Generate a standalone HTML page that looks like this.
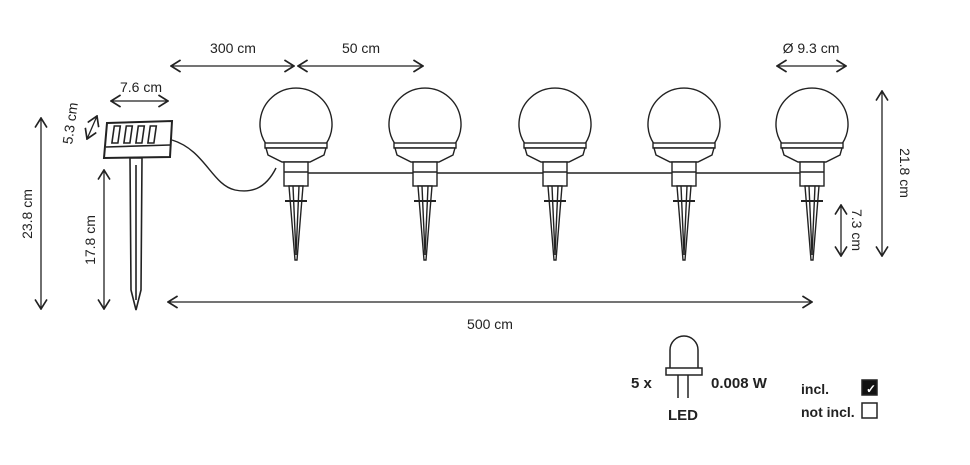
<!DOCTYPE html>
<html><head><meta charset="utf-8"><style>
html,body{margin:0;padding:0;background:#fff;}
svg{display:block}
text{font-family:"Liberation Sans",sans-serif;fill:#222}
</style></head><body>
<svg width="970" height="465" viewBox="0 0 970 465" xmlns="http://www.w3.org/2000/svg">
<defs>
<marker id="a" viewBox="0 0 10 10" refX="9" refY="5" markerWidth="12" markerHeight="13" orient="auto-start-reverse" markerUnits="userSpaceOnUse">
<path d="M1,0 L9,5 L1,10" fill="none" stroke="#222" stroke-width="1.4"/>
</marker>
<g id="lamp" fill="#fff" stroke="#222" stroke-width="1.4">
<path d="M-30,144 A36,36 0 1 1 30,144 Z"/>
<rect x="-31" y="143" width="62" height="5"/>
<path d="M-30,148 L-28,155 L-14,162 L14,162 L28,155 L30,148 Z"/>
<rect x="-12" y="162" width="24" height="24"/>
<line x1="-12" y1="172" x2="12" y2="172"/>
<path d="M-7,186 L7,186 L1,260 L-1,260 Z"/>
<line x1="-3" y1="186" x2="0" y2="255"/>
<line x1="3" y1="186" x2="0" y2="255"/>
<line x1="-11" y1="201" x2="11" y2="201" stroke-width="2"/>
</g>
</defs>
<g stroke="#222" stroke-width="1.4" fill="none">
<line x1="308" y1="173" x2="800" y2="173"/>
<path d="M276,168 C265,190 250,193 235,190 C212,185 205,150 172,140"/>
</g>
<use href="#lamp" x="296" y="0"/>
<use href="#lamp" x="425" y="0"/>
<use href="#lamp" x="555" y="0"/>
<use href="#lamp" x="684" y="0"/>
<use href="#lamp" x="812" y="0"/>
<g stroke="#222" stroke-width="1.6" fill="#fff">
<path d="M130,158 L142,158 L141,290 L136,310 L131,290 Z"/>
<line x1="136" y1="165" x2="136" y2="300"/>
<path d="M107,123 L172,121 L170,157 L104,158 Z" stroke-width="2"/>
<path d="M106,147 L170,145"/>
<rect x="114" y="126" width="6" height="17" transform="skewX(-8) translate(18,0)"/>
<rect x="126" y="126" width="6" height="17" transform="skewX(-8) translate(18,0)"/>
<rect x="138" y="126" width="6" height="17" transform="skewX(-8) translate(18,0)"/>
<rect x="150" y="126" width="6" height="17" transform="skewX(-8) translate(18,0)"/>
</g>
<g stroke="#222" stroke-width="1.3" fill="none" marker-start="url(#a)" marker-end="url(#a)">
<line x1="171" y1="66" x2="294" y2="66"/>
<line x1="298" y1="66" x2="423" y2="66"/>
<line x1="777" y1="66" x2="846" y2="66"/>
<line x1="168" y1="302" x2="812" y2="302"/>
<line x1="882" y1="91" x2="882" y2="256"/>
<line x1="841" y1="205" x2="841" y2="256"/>
<line x1="41" y1="118" x2="41" y2="309"/>
<line x1="104" y1="170" x2="104" y2="309"/>
<line x1="111" y1="101" x2="168" y2="101"/>
<line x1="87" y1="139" x2="97" y2="116"/>
</g>
<g font-size="14">
<text x="233" y="53" text-anchor="middle">300 cm</text>
<text x="361" y="53" text-anchor="middle">50 cm</text>
<text x="811" y="53" text-anchor="middle">Ø 9.3 cm</text>
<text x="490" y="329" text-anchor="middle">500 cm</text>
<text x="141" y="92" text-anchor="middle">7.6 cm</text>
<text transform="translate(900,173) rotate(90)" text-anchor="middle">21.8 cm</text>
<text transform="translate(852,230) rotate(90)" text-anchor="middle">7.3 cm</text>
<text transform="translate(32,214) rotate(-90)" text-anchor="middle">23.8 cm</text>
<text transform="translate(95,240) rotate(-90)" text-anchor="middle">17.8 cm</text>
<text transform="translate(75,124) rotate(-82)" text-anchor="middle">5.3 cm</text>
</g>
<g stroke="#222" stroke-width="1.5" fill="none">
<path d="M670,368 L670,350 A14,14 0 0 1 698,350 L698,368"/>
<rect x="666" y="368" width="36" height="7"/>
<line x1="678" y1="375" x2="678" y2="398"/>
<line x1="688" y1="375" x2="688" y2="398"/>
<rect x="862" y="380" width="15" height="15" fill="#111"/>
<rect x="862" y="403" width="15" height="15"/>
</g>
<text x="866" y="393" font-size="12" style="fill:#fff" font-weight="bold">✓</text>
<g font-size="15" font-weight="bold">
<text x="631" y="388">5 x</text>
<text x="711" y="388">0.008 W</text>
<text x="668" y="420">LED</text>
</g>
<g font-size="14" font-weight="bold">
<text x="801" y="394">incl.</text>
<text x="801" y="417">not incl.</text>
</g>
</svg>
</body></html>
